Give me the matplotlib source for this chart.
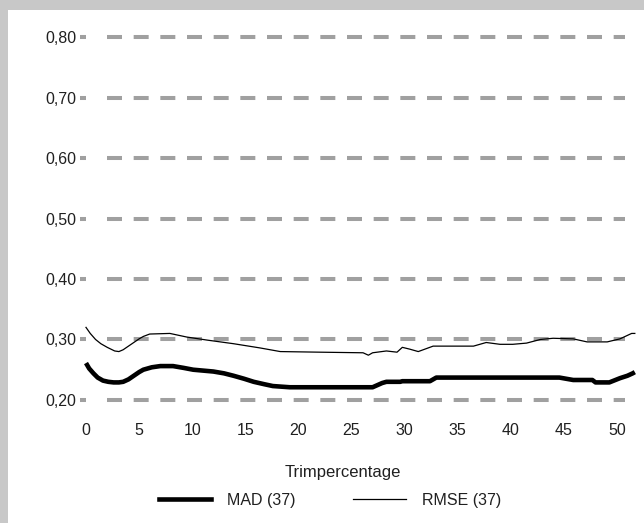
import matplotlib
matplotlib.use("Agg")
import matplotlib.pyplot as plt
from matplotlib.patches import Rectangle
from matplotlib.lines import Line2D

plt.rcParams['font.family'] = ['Liberation Sans', 'DejaVu Sans']
plt.rcParams['lines.scale_dashes'] = False

# MAD (37), thick line
mad_x = [0, 0.3, 0.7, 1.1, 1.6, 2.1, 2.6, 3.1, 3.5, 4.0, 4.5, 5.0, 5.4, 6.2, 7.0, 8.2, 9.2, 10.1,
         12.0, 13.0, 13.9, 14.9, 15.8, 16.8, 17.6, 18.4, 19.2,
         22, 25, 27.0, 27.9, 28.3, 29.6, 29.8, 32.4, 33.0, 38, 44.6, 45.9, 47.7,
         48.0, 49.3, 50.3, 51.0, 51.5, 51.7]
mad_y = [0.261, 0.252, 0.244, 0.237, 0.232, 0.230, 0.229, 0.229, 0.230, 0.234, 0.240, 0.246, 0.250,
         0.254, 0.256, 0.256, 0.253, 0.250,
         0.247, 0.244, 0.240, 0.235, 0.230, 0.226, 0.223, 0.222, 0.221,
         0.221, 0.221, 0.221, 0.228, 0.230, 0.230, 0.231, 0.231, 0.237, 0.237, 0.237, 0.233, 0.233,
         0.229, 0.229, 0.236, 0.240, 0.244, 0.246]

# RMSE (37), thin line
rmse_x = [0, 0.4, 0.9, 1.4, 2.0, 2.7, 3.1, 3.5, 4.0, 4.5, 5.0, 5.4, 6.0, 7.9, 9.5, 11.4, 13.9, 16.4,
          18.3, 22.0,
          26.1, 26.6, 27.0, 28.3, 29.3, 29.8, 30.5, 31.3, 32.7, 34.6, 36.5, 37.7, 39.0,
          40.2, 41.5, 42.8, 44.0, 45.9, 47.2, 49.1, 50.3, 51.4, 51.7]
rmse_y = [0.320, 0.310, 0.300, 0.293, 0.287, 0.281, 0.280, 0.283, 0.289, 0.295, 0.301, 0.305, 0.309,
          0.310, 0.304, 0.299, 0.293, 0.286, 0.280, 0.279,
          0.278, 0.274, 0.278, 0.281, 0.279, 0.287, 0.284, 0.280, 0.289, 0.289, 0.289, 0.295, 0.292,
          0.292, 0.294, 0.300, 0.302, 0.301, 0.296, 0.296, 0.301, 0.310, 0.310]

yticks = [0.20, 0.30, 0.40, 0.50, 0.60, 0.70, 0.80]
ytick_labels = ['0,20', '0,30', '0,40', '0,50', '0,60', '0,70', '0,80']
xticks = [0, 5, 10, 15, 20, 25, 30, 35, 40, 45, 50]

W, H = 644, 523
fig = plt.figure(figsize=(W / 100, H / 100), dpi=100, facecolor='#c8c8c8')
fig.add_artist(Rectangle((8 / W, 0), 1 - 8 / W, 1 - 10 / H, transform=fig.transFigure,
                         facecolor='white', edgecolor='none', zorder=0))

ax = fig.add_axes([86 / W, (H - 406) / H, (638 - 86) / W, (406 - 25) / H])
ax.patch.set_alpha(0)
ax.set_xlim(0, 52)
ax.set_ylim(0.19, 0.82)

grid_color = '#a0a0a0'
for y in yticks:
    ax.hlines(y, 1.98, 50.75, colors=grid_color, linewidth=2.9,
              linestyles=(0, (10.8, 8.4)), zorder=1)

ax.plot(mad_x, mad_y, color='black', linewidth=3.3, solid_capstyle='butt',
        solid_joinstyle='round', zorder=3, clip_on=False, label='MAD (37)')
ax.plot(rmse_x, rmse_y, color='black', linewidth=0.9, zorder=3,
        clip_on=False, label='RMSE (37)')

for s in ax.spines.values():
    s.set_visible(False)

text_color = '#202020'
ax.set_yticks(yticks)
ax.set_yticklabels(ytick_labels)
ax.set_xticks(xticks)
ax.tick_params(axis='y', direction='out', length=4.3, width=2.9, color=grid_color,
               pad=2.9, labelsize=11.5, labelcolor=text_color)
ax.tick_params(axis='x', length=0, pad=12, labelsize=11.5, labelcolor=text_color)

fig.text(343 / W, 1 - 472 / H, 'Trimpercentage', ha='center', va='center',
         fontsize=12, color=text_color)

handles = [Line2D([], [], color='black', linewidth=3.3),
           Line2D([], [], color='black', linewidth=0.9)]
fig.legend(handles, ['MAD (37)', 'RMSE (37)'], loc='center',
           bbox_to_anchor=(330 / W, 1 - 500 / H), ncol=2, frameon=False,
           fontsize=11.5, handlelength=3.3, handletextpad=1.0, columnspacing=3.6,
           labelcolor=text_color)

fig.savefig('out.png', dpi=100, facecolor=fig.get_facecolor())
